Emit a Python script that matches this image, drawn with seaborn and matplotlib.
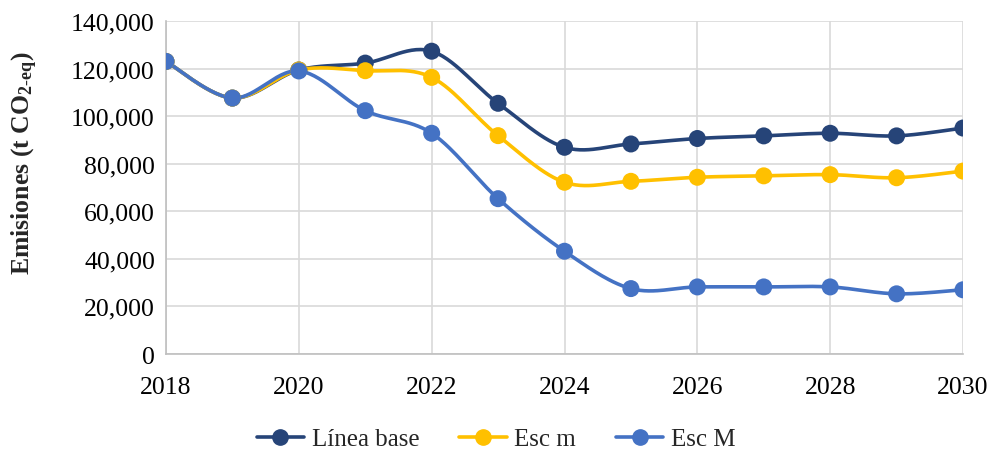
import numpy as np
import pandas as pd
import matplotlib
matplotlib.use("Agg")
import matplotlib.pyplot as plt
from matplotlib.lines import Line2D
import seaborn as sns

years = [2018, 2019, 2020, 2021, 2022, 2023, 2024, 2025, 2026, 2027, 2028, 2029, 2030]
linea_base = [123000, 107600, 119400, 122300, 127300, 105400, 86900, 88300, 90600, 91700, 92800, 91700, 95000]
esc_m = [123000, 107600, 119400, 119100, 116300, 91800, 72200, 72600, 74300, 74900, 75400, 74100, 76900]
esc_M = [123000, 107600, 119000, 102300, 92800, 65300, 43200, 27500, 28200, 28200, 28200, 25300, 27000]
series_names = ["Línea base", "Esc m", "Esc M"]
colors = ["#264478", "#FFC000", "#4472C4"]

def smooth(x, y, n=30):
    x = np.asarray(x, float); y = np.asarray(y, float)
    P = np.column_stack([x, y])
    out = []
    for i in range(len(P) - 1):
        p0 = P[i - 1] if i > 0 else P[i]
        p1 = P[i]; p2 = P[i + 1]
        p3 = P[i + 2] if i + 2 < len(P) else P[i + 1]
        c1 = p1 + (p2 - p0) / 6.0
        c2 = p2 - (p3 - p1) / 6.0
        t = np.linspace(0, 1, n, endpoint=(i == len(P) - 2))[:, None]
        seg = (1 - t) ** 3 * p1 + 3 * (1 - t) ** 2 * t * c1 + 3 * (1 - t) * t ** 2 * c2 + t ** 3 * p2
        out.append(seg)
    out = np.vstack(out)
    return out[:, 0], out[:, 1]

sns.set_theme(style="white")
plt.rcParams["font.family"] = ["Liberation Serif", "DejaVu Serif"]
plt.rcParams["mathtext.fontset"] = "custom"
plt.rcParams["mathtext.rm"] = "Liberation Serif"
plt.rcParams["mathtext.bf"] = "Liberation Serif:bold"
plt.rcParams["mathtext.it"] = "Liberation Serif:italic"

fig = plt.figure(figsize=(9.92, 4.52), dpi=100)
ax = fig.add_axes([166 / 992, 1 - 355 / 452, (963 - 166) / 992, (355 - 22) / 452])

all_series = [linea_base, esc_m, esc_M]
smooth_rows = []
for name, vals in zip(series_names, all_series):
    sx, sy = smooth(years, vals)
    smooth_rows.append(pd.DataFrame({"year": sx, "value": sy, "serie": name}))
sdf = pd.concat(smooth_rows, ignore_index=True)
pdf = pd.DataFrame({
    "year": years * 3,
    "value": linea_base + esc_m + esc_M,
    "serie": sum([[n] * len(years) for n in series_names], []),
})
pal = dict(zip(series_names, colors))

for name in series_names:
    d = sdf[sdf.serie == name]
    sns.lineplot(data=d, x="year", y="value", color=pal[name], lw=2.6, sort=False,
                 estimator=None, ax=ax, legend=False, zorder=3)
    dp = pdf[pdf.serie == name]
    sns.scatterplot(data=dp, x="year", y="value", color=pal[name], s=150, edgecolor="none",
                    ax=ax, legend=False, zorder=4)

ax.set_xlim(2018, 2030)
ax.set_ylim(0, 140000)
ax.set_xticks(range(2018, 2031, 2))
ax.set_yticks(range(0, 140001, 20000))
ax.set_yticklabels([f"{v:,}" for v in range(0, 140001, 20000)])
ax.grid(True, color="#D9D9D9", lw=1.2)
ax.set_axisbelow(True)
for s in ["top", "right"]:
    ax.spines[s].set_visible(False)
for s in ["left", "bottom"]:
    ax.spines[s].set_color("#BFBFBF")
    ax.spines[s].set_linewidth(1.2)
ax.tick_params(axis="both", labelsize=18.5, colors="black", length=0, pad=8)
ax.tick_params(axis="x", pad=16)
ax.set_xlabel("")
ax.set_ylabel(r"Emisiones (t CO$_{\mathbf{2\text{-}eq}}$)", fontsize=18.5, fontweight="bold")
ax.yaxis.set_label_coords((40 - 166) / 797, (355 - 163) / 333)

handles = [Line2D([0], [0], color=c, lw=2.6, marker="o", markersize=11) for c in colors]
fig.legend(handles, series_names, loc="center", bbox_to_anchor=(0.5, 1 - 440 / 452), ncol=3,
           frameon=False, fontsize=18, handlelength=1.9, columnspacing=1.6, handletextpad=0.3)

fig.savefig("out.png", dpi=100)
